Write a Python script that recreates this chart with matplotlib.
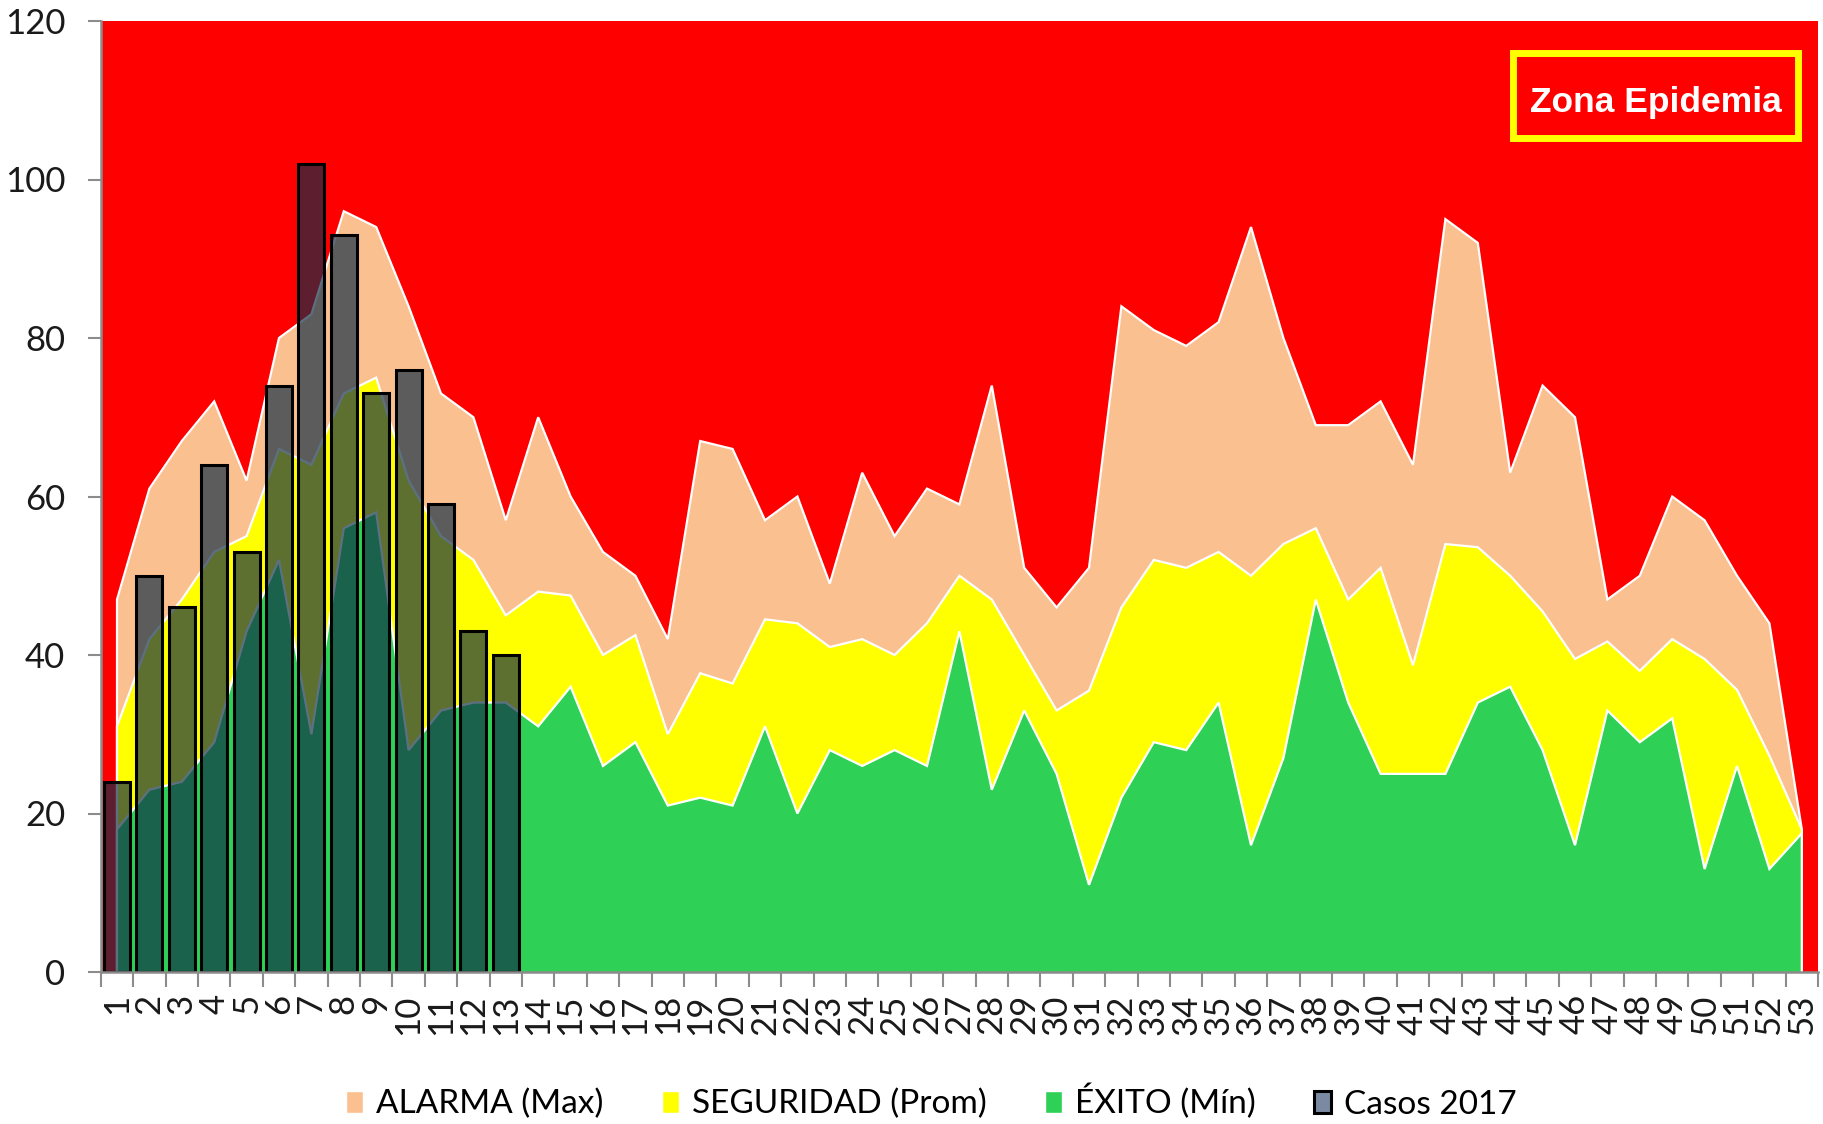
import numpy as np
import matplotlib
matplotlib.use("Agg")
import matplotlib.pyplot as plt
from matplotlib import font_manager
from matplotlib.patches import Rectangle, Patch

# ---------------- data ----------------
semanas = list(range(1, 54))
alarma = [47, 61, 67, 72, 62, 80, 83, 96, 94, 84,
          73, 70, 57, 70, 60, 53, 50, 42, 67, 66,
          57, 60, 49, 63, 55, 61, 59, 74, 51, 46,
          51, 84, 81, 79, 82, 94, 80, 69, 69, 72,
          64, 95, 92, 63, 74, 70, 47, 50, 60, 57,
          50, 44, 18]
seguridad = [31, 42, 47, 53, 55, 66, 64, 73, 75, 62,
             55, 52, 45, 48, 47.5, 40, 42.5, 30, 37.7, 36.4,
             44.5, 44, 41, 42, 40, 44, 50, 47, 40, 33,
             35.5, 46, 52, 51, 53, 50, 54, 56, 47, 51,
             38.7, 54, 53.6, 50, 45.5, 39.5, 41.7, 38, 42, 39.5,
             35.6, 27.3, 18]
exito = [18, 23, 24, 29, 43, 52, 30, 56, 58, 28,
         33, 34, 34, 31, 36, 26, 29, 21, 22, 21,
         31, 20, 28, 26, 28, 26, 43, 23, 33, 25,
         11, 22, 29, 28, 34, 16, 27, 47, 34, 25,
         25, 25, 34, 36, 28, 16, 33, 29, 32, 13,
         26, 13, 17.5]
casos_2017 = [24, 50, 46, 64, 53, 74, 102, 93, 73, 76, 59, 43, 40]
series_labels = ["ALARMA (Max)", "SEGURIDAD (Prom)", "ÉXITO (Mín)", "Casos 2017"]
yticks = [0, 20, 40, 60, 80, 100, 120]

# ---------------- style ----------------
plt.rcParams["font.family"] = ["Lato", "DejaVu Sans"]
C_RED = "#FF0000"
C_ALARMA = "#FAC090"
C_SEG = "#FFFF00"
C_EXITO = "#2ED156"
C_BAR = (17 / 255, 45 / 255, 70 / 255, 0.68)
C_AXIS = "#8C8C8C"

W, H = 1824, 1124
fig = plt.figure(figsize=(W / 100, H / 100), dpi=100)
ax = fig.add_axes([100.8 / W, 152 / H, (1818 - 100.8) / W, (972 - 21) / H])
ax.set_facecolor(C_RED)
ax.set_xlim(0.5, 53.5)
ax.set_ylim(0, 120)

for vals, col, z in [(alarma, C_ALARMA, 1), (seguridad, C_SEG, 2), (exito, C_EXITO, 3)]:
    ax.fill_between(semanas, 0, vals, color=col, lw=0, zorder=z)
    ax.plot([semanas[0]] + semanas + [semanas[-1]], [0] + vals + [0],
            color="white", lw=1.6, zorder=z + 0.1, solid_joinstyle="miter")

ax.bar(semanas[:len(casos_2017)], casos_2017, width=0.8, color=C_BAR,
       edgecolor="black", linewidth=2.2, zorder=4)

for s in ["top", "right"]:
    ax.spines[s].set_visible(False)
for s in ["left", "bottom"]:
    ax.spines[s].set_color(C_AXIS)
    ax.spines[s].set_linewidth(1.8)
    ax.spines[s].set_zorder(10)

ax.set_yticks(yticks)
ax.tick_params(axis="y", length=9.5, width=1.5, color=C_AXIS, pad=16,
               labelsize=25, labelcolor="#1a1a1a")
ax.set_xticks(semanas)
ax.set_xticklabels([str(s) for s in semanas], rotation=90)
ax.tick_params(axis="x", which="major", length=0, pad=16, labelsize=25,
               labelcolor="#1a1a1a")
ax.set_xticks(np.arange(0.5, 54, 1), minor=True)
ax.tick_params(axis="x", which="minor", length=11, width=1.5, color=C_AXIS)

# ---------------- Zona Epidemia label ----------------
names = {f.name for f in font_manager.fontManager.ttflist}
if "Liberation Sans Narrow" in names:
    zfam, zsize = ["Liberation Sans Narrow", "DejaVu Sans"], 30
else:
    zfam, zsize = ["Liberation Sans", "DejaVu Sans"], 25.5
rect = Rectangle((1513 / W, 1 - 138 / H), 285 / W, 84.5 / H, transform=fig.transFigure,
                 facecolor="none", edgecolor="#FFFF00", lw=5, zorder=6)
fig.patches.append(rect)
fig.text(1655.6 / W, 1 - 111.5 / H, "Zona Epidemia", ha="center", va="baseline",
         color="white", fontweight="bold", fontsize=zsize, family=zfam)

# ---------------- legend ----------------
handles = [Patch(facecolor=C_ALARMA, edgecolor="white"),
           Patch(facecolor=C_SEG, edgecolor="white"),
           Patch(facecolor=C_EXITO, edgecolor="white"),
           Patch(facecolor="#7A8AA3", edgecolor="black", lw=2.2)]
fig.legend(handles, series_labels, loc="lower center", bbox_to_anchor=(0.5107, 0.004),
           ncol=4, frameon=False, fontsize=24, handlelength=0.5, handleheight=0.64,
           handletextpad=0.4, columnspacing=1.75, borderpad=0, borderaxespad=0)

fig.savefig("out.png", dpi=100)
